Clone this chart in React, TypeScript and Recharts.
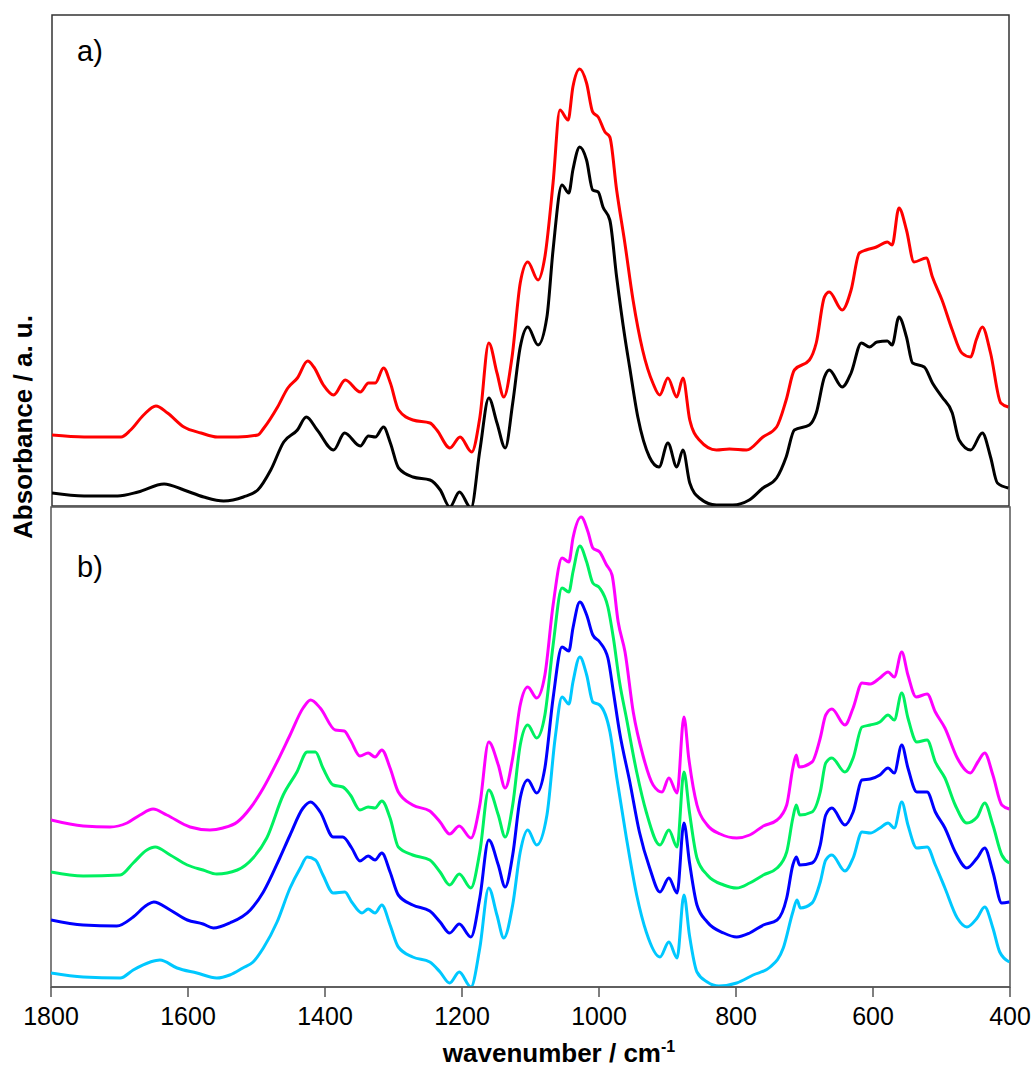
import { LineChart, Line, XAxis, YAxis, ReferenceArea } from "recharts";

// panel a)
const redWn = [1800,1753,1699,1685,1666,1648,1631,1607,1582,1558,1528,1499,1490,1470,1455,1441,1426,1417,1403,1388,1371,1349,1337,1327,1315,1305,1293,1272,1247,1237,1218,1203,1186,1174,1161,1149,1139,1127,1115,1104,1089,1079,1067,1057,1045,1038,1028,1018,1009,1001,991,984,974,962,950,936,921,911,899,886,877,867,853,828,809,784,760,740,726,714,692,682,670,663,644,631,619,609,594,578,571,561,550,539,521,512,498,483,469,456,448,439,427,412,401];
const redAbs = [0.142,0.138,0.138,0.152,0.182,0.2,0.186,0.158,0.146,0.138,0.138,0.142,0.156,0.198,0.236,0.256,0.29,0.278,0.242,0.222,0.252,0.228,0.246,0.246,0.276,0.246,0.192,0.172,0.166,0.152,0.116,0.138,0.108,0.178,0.326,0.266,0.218,0.298,0.446,0.488,0.452,0.498,0.646,0.792,0.772,0.838,0.874,0.846,0.788,0.778,0.748,0.738,0.632,0.526,0.412,0.312,0.246,0.222,0.256,0.218,0.256,0.172,0.132,0.112,0.114,0.112,0.138,0.158,0.212,0.272,0.292,0.326,0.418,0.428,0.392,0.432,0.506,0.512,0.518,0.528,0.522,0.596,0.552,0.488,0.496,0.458,0.412,0.352,0.306,0.298,0.332,0.358,0.306,0.206,0.198];

const blackWn = [1800,1753,1704,1674,1636,1607,1578,1549,1520,1499,1480,1461,1441,1428,1412,1388,1372,1349,1337,1327,1315,1305,1293,1272,1247,1232,1218,1204,1187,1174,1161,1149,1137,1126,1115,1104,1089,1076,1067,1054,1044,1038,1028,1018,1009,1001,994,984,974,962,955,943,926,912,899,886,877,867,853,828,804,780,760,740,726,714,692,682,670,663,644,631,616,604,593,578,571,561,550,541,524,512,498,483,473,456,439,427,417,401];
const blackAbs = [0.026,0.02,0.02,0.028,0.044,0.032,0.018,0.01,0.018,0.032,0.072,0.128,0.152,0.178,0.152,0.112,0.146,0.12,0.14,0.138,0.158,0.126,0.076,0.058,0.052,0.032,-0.002,0.028,-0.004,0.112,0.216,0.166,0.116,0.206,0.318,0.358,0.322,0.378,0.512,0.642,0.626,0.672,0.718,0.692,0.632,0.628,0.598,0.572,0.458,0.338,0.278,0.178,0.098,0.078,0.126,0.078,0.112,0.046,0.016,0.002,0.002,0.012,0.036,0.056,0.098,0.152,0.162,0.186,0.258,0.272,0.238,0.266,0.326,0.318,0.328,0.33,0.322,0.378,0.338,0.286,0.278,0.246,0.218,0.186,0.132,0.112,0.146,0.098,0.046,0.036];

// panel b)
const magWn = [1800,1753,1714,1689,1670,1651,1631,1597,1568,1549,1528,1509,1490,1470,1451,1432,1421,1407,1385,1372,1363,1349,1337,1327,1317,1305,1293,1272,1247,1232,1218,1204,1187,1174,1161,1147,1137,1126,1115,1104,1091,1079,1067,1054,1044,1038,1026,1016,1009,999,989,981,972,962,950,936,921,908,898,886,876,869,857,842,823,799,780,760,740,726,717,712,708,689,677,669,660,641,629,616,604,590,578,569,558,549,537,521,509,495,477,458,447,437,425,412,401];
const magAbs = [0.334,0.322,0.32,0.328,0.344,0.356,0.344,0.32,0.314,0.318,0.33,0.358,0.398,0.45,0.504,0.558,0.574,0.558,0.514,0.512,0.494,0.462,0.468,0.46,0.474,0.438,0.39,0.364,0.352,0.33,0.306,0.322,0.298,0.364,0.49,0.444,0.398,0.458,0.564,0.6,0.578,0.624,0.764,0.858,0.85,0.898,0.94,0.91,0.878,0.87,0.844,0.824,0.73,0.67,0.55,0.464,0.404,0.39,0.418,0.388,0.54,0.458,0.364,0.324,0.306,0.298,0.304,0.322,0.334,0.364,0.438,0.464,0.44,0.45,0.498,0.544,0.556,0.524,0.558,0.608,0.606,0.618,0.63,0.62,0.67,0.624,0.58,0.586,0.55,0.518,0.458,0.428,0.45,0.468,0.424,0.364,0.356];

const grnWn = [1800,1753,1699,1680,1660,1648,1626,1601,1578,1558,1528,1505,1485,1461,1441,1426,1414,1403,1388,1374,1363,1349,1337,1327,1317,1305,1293,1272,1247,1232,1218,1204,1187,1174,1161,1147,1137,1126,1115,1104,1091,1079,1067,1054,1044,1038,1028,1018,1009,999,987,979,970,960,945,931,911,898,886,876,868,857,842,818,799,780,760,740,726,717,712,707,689,677,669,660,641,629,616,604,590,578,569,558,549,536,521,509,495,480,463,448,437,425,412,401];
const grnAbs = [0.23,0.222,0.224,0.248,0.274,0.28,0.264,0.244,0.234,0.226,0.234,0.258,0.298,0.384,0.43,0.47,0.47,0.438,0.404,0.4,0.384,0.354,0.36,0.358,0.372,0.338,0.28,0.264,0.254,0.23,0.204,0.226,0.198,0.27,0.394,0.344,0.3,0.364,0.484,0.524,0.498,0.544,0.684,0.798,0.79,0.83,0.882,0.85,0.808,0.798,0.76,0.698,0.61,0.538,0.43,0.35,0.284,0.314,0.28,0.43,0.35,0.258,0.224,0.204,0.198,0.208,0.224,0.238,0.27,0.338,0.364,0.344,0.35,0.39,0.448,0.458,0.43,0.458,0.52,0.524,0.53,0.544,0.534,0.588,0.538,0.49,0.494,0.45,0.418,0.364,0.328,0.34,0.368,0.324,0.264,0.248];

const bluWn = [1800,1753,1704,1680,1660,1650,1626,1601,1578,1563,1539,1509,1490,1466,1451,1432,1421,1407,1388,1374,1361,1349,1337,1327,1317,1305,1293,1272,1247,1232,1218,1204,1187,1174,1161,1147,1137,1126,1115,1104,1091,1079,1067,1054,1044,1038,1028,1018,1009,999,987,979,970,955,941,926,911,898,886,876,868,857,842,818,799,780,760,740,726,717,712,707,689,677,669,660,641,629,616,604,590,578,569,558,549,536,521,509,495,480,463,448,437,425,412,401];
const bluAbs = [0.134,0.124,0.122,0.14,0.164,0.17,0.154,0.134,0.126,0.118,0.128,0.154,0.19,0.258,0.304,0.358,0.37,0.35,0.3,0.3,0.278,0.252,0.262,0.254,0.268,0.23,0.184,0.164,0.152,0.13,0.108,0.126,0.1,0.178,0.294,0.244,0.2,0.264,0.378,0.414,0.388,0.438,0.578,0.68,0.672,0.718,0.77,0.744,0.704,0.69,0.658,0.59,0.51,0.41,0.31,0.238,0.19,0.218,0.188,0.328,0.25,0.164,0.13,0.108,0.1,0.108,0.124,0.134,0.178,0.244,0.26,0.244,0.248,0.284,0.344,0.358,0.324,0.35,0.414,0.416,0.424,0.438,0.428,0.484,0.438,0.39,0.39,0.35,0.318,0.27,0.238,0.258,0.278,0.23,0.168,0.17];

const cyanWn = [1800,1753,1699,1680,1655,1641,1616,1587,1558,1539,1520,1505,1490,1470,1451,1436,1426,1414,1403,1388,1371,1361,1346,1337,1327,1317,1305,1293,1272,1247,1232,1218,1204,1187,1174,1161,1149,1139,1126,1115,1104,1091,1076,1064,1054,1044,1038,1028,1018,1009,999,984,974,960,945,931,911,898,886,876,868,857,842,825,799,775,750,731,717,711,706,689,677,669,660,641,629,616,604,590,578,569,558,549,536,521,509,495,477,463,448,437,425,415,401];
const cyanAbs = [0.028,0.02,0.018,0.034,0.05,0.054,0.038,0.028,0.018,0.024,0.038,0.05,0.078,0.13,0.198,0.238,0.26,0.254,0.224,0.188,0.19,0.17,0.148,0.156,0.148,0.164,0.124,0.08,0.06,0.05,0.03,0.008,0.03,0,0.078,0.198,0.144,0.098,0.164,0.27,0.314,0.284,0.344,0.498,0.58,0.566,0.61,0.66,0.624,0.57,0.564,0.51,0.418,0.298,0.184,0.11,0.06,0.09,0.058,0.184,0.104,0.03,0.01,0.002,0.008,0.024,0.04,0.078,0.15,0.174,0.158,0.168,0.21,0.254,0.264,0.232,0.258,0.31,0.308,0.318,0.328,0.318,0.37,0.324,0.278,0.28,0.244,0.198,0.138,0.12,0.138,0.16,0.118,0.07,0.05];

const xTicks = [1800, 1600, 1400, 1200, 1000, 800, 600, 400];

const zip = (wn: number[], abs: number[]) =>
  wn.slice(0, Math.min(wn.length, abs.length)).map((w, i) => ({ w, a: abs[i] }));

const topSeries = [
  { name: "red", color: "#ff0000", data: zip(redWn, redAbs) },
  { name: "black", color: "#000000", data: zip(blackWn, blackAbs) },
];
const bottomSeries = [
  { name: "magenta", color: "#ff00ff", data: zip(magWn, magAbs) },
  { name: "green", color: "#00f060", data: zip(grnWn, grnAbs) },
  { name: "blue", color: "#0000ff", data: zip(bluWn, bluAbs) },
  { name: "cyan", color: "#00c8ff", data: zip(cyanWn, cyanAbs) },
];

const FONT = "'Liberation Sans', Arial, sans-serif";
const TOP_MAX = 0.982;
const BOT_MAX = 0.96;

export default function App() {
  return (
    <div style={{ position: "relative", width: 1035, height: 1075, background: "#fff", fontFamily: FONT }}>
      <style>{`body{margin:0}`}</style>

      {/* a) */}
      <div style={{ position: "absolute", left: 0, top: 0 }}>
        <LineChart width={1035} height={520} margin={{ top: 15, right: 26, bottom: 14, left: 52 }}>
          <XAxis type="number" dataKey="w" domain={[400, 1800]} reversed hide allowDataOverflow />
          <YAxis type="number" domain={[0, TOP_MAX]} hide allowDataOverflow />
          <ReferenceArea x1={400} x2={1800} y1={0} y2={TOP_MAX} fill="none" stroke="#333" strokeWidth={1.5} ifOverflow="visible" />
          {topSeries.map((s) => (
            <Line
              key={s.name}
              data={s.data}
              dataKey="a"
              type="monotone"
              stroke={s.color}
              strokeWidth={3}
              dot={false}
              isAnimationActive={false}
            />
          ))}
        </LineChart>
      </div>

      {/* b) */}
      <div style={{ position: "absolute", left: 0, top: 500 }}>
        <LineChart width={1035} height={575} margin={{ top: 7, right: 25, bottom: 48, left: 51 }}>
          <XAxis
            type="number"
            dataKey="w"
            domain={[400, 1800]}
            reversed
            ticks={xTicks}
            interval={0}
            height={40}
            tickSize={10}
            tickMargin={10}
            axisLine={{ stroke: "#555", strokeWidth: 1.5 }}
            tickLine={{ stroke: "#555", strokeWidth: 1.5 }}
            tick={{ fill: "#000", fontSize: 25, fontFamily: FONT }}
            allowDataOverflow
          />
          <YAxis type="number" domain={[0, BOT_MAX]} hide allowDataOverflow />
          <ReferenceArea x1={400} x2={1800} y1={0} y2={BOT_MAX} fill="none" stroke="#555" strokeWidth={1.5} ifOverflow="visible" />
          {bottomSeries.map((s) => (
            <Line
              key={s.name}
              data={s.data}
              dataKey="a"
              type="monotone"
              stroke={s.color}
              strokeWidth={3}
              dot={false}
              isAnimationActive={false}
            />
          ))}
        </LineChart>
      </div>

      {/* texts */}
      <svg width={1035} height={1075} style={{ position: "absolute", left: 0, top: 0, pointerEvents: "none" }}>
        <text x={77} y={61} fontSize={29} fontFamily={FONT} fill="#000">a)</text>
        <text x={77} y={577} fontSize={29} fontFamily={FONT} fill="#000">b)</text>
        <text
          transform="translate(32,427) rotate(-90)"
          textAnchor="middle"
          fontSize={26}
          fontWeight="bold"
          fontFamily={FONT}
          fill="#000"
        >
          Absorbance / a. u.
        </text>
        <text x={559} y={1062} textAnchor="middle" fontSize={26} fontWeight="bold" fontFamily={FONT} fill="#000">
          wavenumber / cm
          <tspan fontSize={16} dy={-10}>-1</tspan>
        </text>
      </svg>
    </div>
  );
}
